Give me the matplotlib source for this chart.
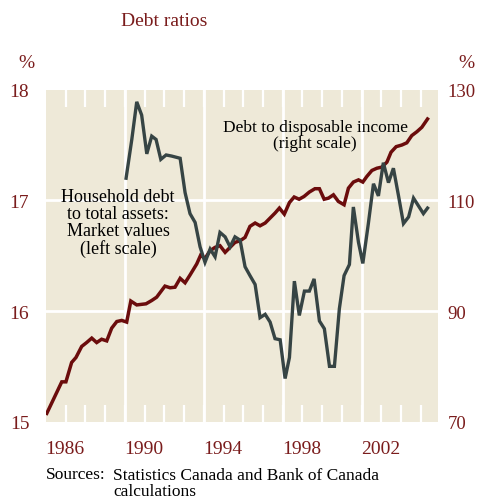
import matplotlib.pyplot as plt

# Debt to disposable income (right scale, %)
income_years = [1986.04, 1986.80, 1987.01, 1987.30, 1987.52, 1987.81, 1988.06, 1988.32,
                1988.57, 1988.82, 1989.08, 1989.33, 1989.59, 1989.84, 1990.09, 1990.30,
                1990.60, 1991.07, 1991.36, 1991.61, 1992.03, 1992.29, 1992.54, 1992.80,
                1993.05, 1993.30, 1993.64, 1993.84, 1994.06, 1994.32, 1994.57, 1994.82,
                1995.08, 1995.33, 1995.58, 1995.84, 1996.09, 1996.34, 1996.60, 1996.85,
                1997.11, 1997.36, 1997.61, 1997.83, 1998.08, 1998.34, 1998.58, 1998.83,
                1999.08, 1999.35, 1999.63, 1999.86, 2000.10, 2000.32, 2000.57, 2000.82,
                2001.11, 2001.33, 2001.58, 2001.84, 2002.06, 2002.26, 2002.52, 2002.77,
                2003.02, 2003.28, 2003.49, 2003.75, 2004.04, 2004.29, 2004.54, 2004.80,
                2005.05, 2005.34]
income_ratio = [71.5, 77.2, 77.2, 80.7, 81.6, 83.6, 84.3, 85.1,
                84.3, 84.9, 84.6, 86.9, 88.1, 88.3, 88.0, 91.8,
                91.1, 91.3, 91.9, 92.5, 94.5, 94.2, 94.3, 95.9,
                95.1, 96.5, 98.5, 100.1, 99.5, 100.9, 101.5, 101.8,
                100.6, 101.5, 102.4, 102.7, 103.3, 105.3, 105.9, 105.4,
                105.9, 106.8, 107.7, 108.6, 107.5, 109.6, 110.6, 110.2,
                110.7, 111.5, 112.1, 112.1, 110.2, 110.4, 111.0, 109.8,
                109.2, 112.2, 113.3, 113.7, 113.3, 114.3, 115.4, 115.8,
                116.0, 116.9, 118.7, 119.7, 120.0, 120.4, 121.7, 122.4,
                123.2, 124.7]

# Household debt to total assets, market values (left scale, %)
assets_years = [1990.06, 1990.35, 1990.60, 1990.85, 1991.11, 1991.36, 1991.58, 1991.82,
                1992.09, 1992.37, 1992.80, 1993.05, 1993.30, 1993.56, 1993.81, 1994.06,
                1994.32, 1994.57, 1994.82, 1995.08, 1995.33, 1995.58, 1995.84, 1996.09,
                1996.34, 1996.60, 1996.85, 1997.11, 1997.36, 1997.61, 1997.87, 1998.12,
                1998.34, 1998.59, 1998.84, 1999.10, 1999.35, 1999.59, 1999.86, 2000.11,
                2000.37, 2000.62, 2000.87, 2001.11, 2001.38, 2001.58, 2001.84, 2002.06,
                2002.34, 2002.60, 2002.85, 2003.10, 2003.36, 2003.61, 2003.87, 2004.12,
                2004.38, 2004.63, 2004.88, 2005.13, 2005.34]
assets_ratio = [17.20, 17.55, 17.89, 17.77, 17.42, 17.58, 17.55, 17.37,
                17.41, 17.40, 17.38, 17.07, 16.88, 16.80, 16.58, 16.44,
                16.56, 16.49, 16.71, 16.67, 16.58, 16.67, 16.64, 16.40,
                16.32, 16.24, 15.94, 15.97, 15.90, 15.75, 15.74, 15.39,
                15.58, 16.27, 15.96, 16.18, 16.18, 16.29, 15.91, 15.84,
                15.50, 15.50, 16.02, 16.32, 16.42, 16.94, 16.62, 16.43,
                16.79, 17.15, 17.04, 17.34, 17.16, 17.29, 17.04, 16.79,
                16.85, 17.02, 16.95, 16.88, 16.93]

year_labels = [1986, 1990, 1994, 1998, 2002]
left_ticks = [15, 16, 17, 18]
right_ticks = [70, 90, 110, 130]

RED_TEXT = '#7a1c1c'
RED_LINE = '#6b0c0c'
GREY_LINE = '#364444'
BG = '#eee9d8'
FONT = 'Liberation Serif'

plt.rcParams['font.family'] = FONT

fig = plt.figure(figsize=(4.78, 5.02), dpi=100)
ax = fig.add_axes([0.0962, 0.158, 0.8201, 0.6614])
ax2 = ax.twinx()

ax.set_facecolor(BG)
ax.set_axisbelow(True)
ax.set_xlim(1986, 2005.87)
ax.set_ylim(70, 130)
ax2.set_ylim(15, 18)

for a in (ax, ax2):
    for s in a.spines.values():
        s.set_visible(False)

# white grid
for yr in [1990, 1994, 1998, 2002]:
    ax.axvline(yr, color='white', lw=2, zorder=1)
for v in [90, 110]:
    ax.axhline(v, color='white', lw=2, zorder=1)

# yearly tick marks, top and bottom
ax.set_xticks(range(1987, 2006))
ax.set_xticklabels([])
ax.tick_params(axis='x', direction='in', length=12.2, width=1.6, colors='white',
               top=True, bottom=True)

# y scales
ax.yaxis.tick_right()
ax.set_yticks(right_ticks)
ax.tick_params(axis='y', length=0, pad=7, labelsize=13.5, labelcolor=RED_TEXT)
ax2.yaxis.tick_left()
ax2.set_yticks(left_ticks)
ax2.tick_params(axis='y', length=0, pad=12, labelsize=14, labelcolor=RED_TEXT)

ax.plot(income_years, income_ratio, color=RED_LINE, lw=2.5, zorder=3,
        solid_joinstyle='miter')
ax2.plot(assets_years, assets_ratio, color=GREY_LINE, lw=2.4, zorder=3,
         solid_joinstyle='miter')

for yr in year_labels:
    ax.text(yr + 0.95, -0.082, str(yr), transform=ax.get_xaxis_transform(),
            ha='center', va='center', fontsize=14, color=RED_TEXT)

ax.text(1999.64, 121.8, 'Debt to disposable income\n(right scale)', ha='center',
        va='center', fontsize=12.5, linespacing=1.0)
ax2.text(1989.65, 16.80, 'Household debt\nto total assets:\nMarket values\n(left scale)',
         ha='center', va='center', fontsize=13, linespacing=1.0)

fig.text(164 / 478, 1 - 21 / 502, 'Debt ratios', ha='center', va='center',
         fontsize=14, color=RED_TEXT)
fig.text(26 / 478, 1 - 63 / 502, '%', ha='center', va='center', fontsize=14, color=RED_TEXT)
fig.text(466 / 478, 1 - 63 / 502, '%', ha='center', va='center', fontsize=14, color=RED_TEXT)

fig.text(46 / 478, 1 - 475 / 502, 'Sources:', ha='left', va='center', fontsize=12.5)
fig.text(113 / 478, 1 - 484 / 502, 'Statistics Canada and Bank of Canada\ncalculations',
         ha='left', va='center', fontsize=12.5, linespacing=1.0)

fig.savefig('out.png', dpi=100)
